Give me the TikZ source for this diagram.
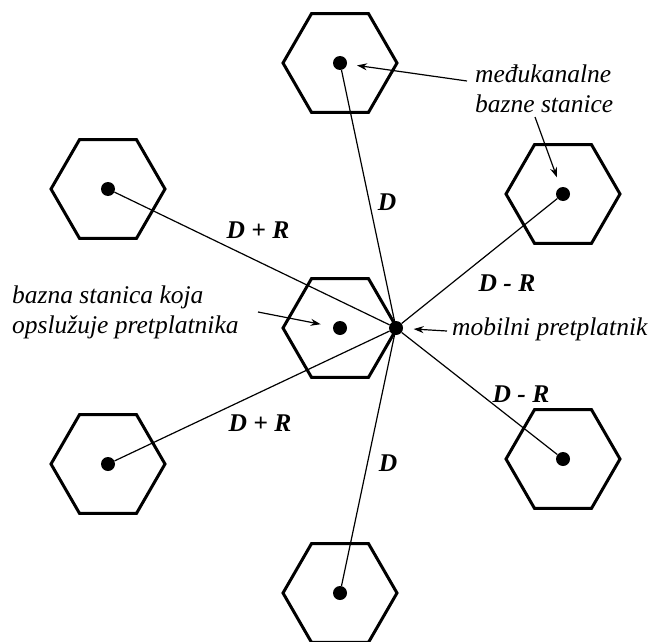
\documentclass[tikz,border=0pt]{standalone}
\usepackage{fontspec}
\setmainfont{Liberation Serif}
\usetikzlibrary{shapes.geometric,arrows.meta}

\tikzset{
  hexcell/.style={draw, regular polygon, regular polygon sides=6, minimum size=114pt, inner sep=0pt, line width=3pt},
  bs/.style={circle, fill, inner sep=0pt, minimum size=14pt},
  link/.style={line width=1.2pt},
  pointer/.style={line width=1.2pt, -{Stealth[length=10pt,width=7pt]}},
  lbl/.style={font=\fontsize{25.5}{30}\selectfont\itshape, inner sep=0pt, align=left},
  dist/.style={font=\fontsize{25.5}{30}\selectfont\bfseries\itshape, inner sep=0pt}
}

\begin{document}
\begin{tikzpicture}[x=1pt,y=-1pt]
        \useasboundingbox (0,0) rectangle (653,642);
        % cells
        \node[hexcell](hC) at (340,328) {};
        \node[hexcell](hN) at (340,63) {};
        \node[hexcell](hNE) at (563,194) {};
        \node[hexcell](hSE) at (563,459) {};
        \node[hexcell](hS) at (340,593) {};
        \node[hexcell](hSW) at (108,464) {};
        \node[hexcell](hNW) at (108,189) {};
        % base stations and subscriber
        \node[bs](bC) at (hC) {};
        \node[bs](bN) at (hN) {};
        \node[bs](bNE) at (hNE) {};
        \node[bs](bSE) at (hSE) {};
        \node[bs](bS) at (hS) {};
        \node[bs](bSW) at (hSW) {};
        \node[bs](bNW) at (hNW) {};
        \node[bs](m) at (396,328) {};
        % distances
        \draw[link](m)--(bN);
        \draw[link](m)--(bNE);
        \draw[link](m)--(bSE);
        \draw[link](m)--(bS);
        \draw[link](m)--(bSW);
        \draw[link](m)--(bNW);
        \node[dist](dN) at (387,202) {D};
        \node[dist](dNW) at (258,230) {D + R};
        \node[dist](dNE) at (507,283) {D - R};
        \node[dist](dSE) at (521,394) {D - R};
        \node[dist](dSW) at (260,423) {D + R};
        \node[dist](dS) at (388,463) {D};
        % labels
        \node[lbl, anchor=base west](lInt) at (475,112) {međukanalne\\bazne stanice};
        \node[lbl, anchor=base west](lServ) at (12,333) {bazna stanica koja\\opslužuje pretplatnika};
        \node[lbl, anchor=base west](lMob) at (452,335) {mobilni pretplatnik};
        \coordinate(tInt1) at (467,81);
        \coordinate(tInt2) at (535,117);
        \coordinate(tServ) at (258,312);
        \coordinate(tMob) at (447,331);
        \draw[pointer, shorten >=10pt](tInt1)--(bN);
        \draw[pointer, shorten >=10.5pt](tInt2)--(bNE);
        \draw[pointer, shorten >=12.5pt](tServ)--(bC);
        \draw[pointer, shorten >=10.5pt](tMob)--(m);
\end{tikzpicture}
\end{document}
